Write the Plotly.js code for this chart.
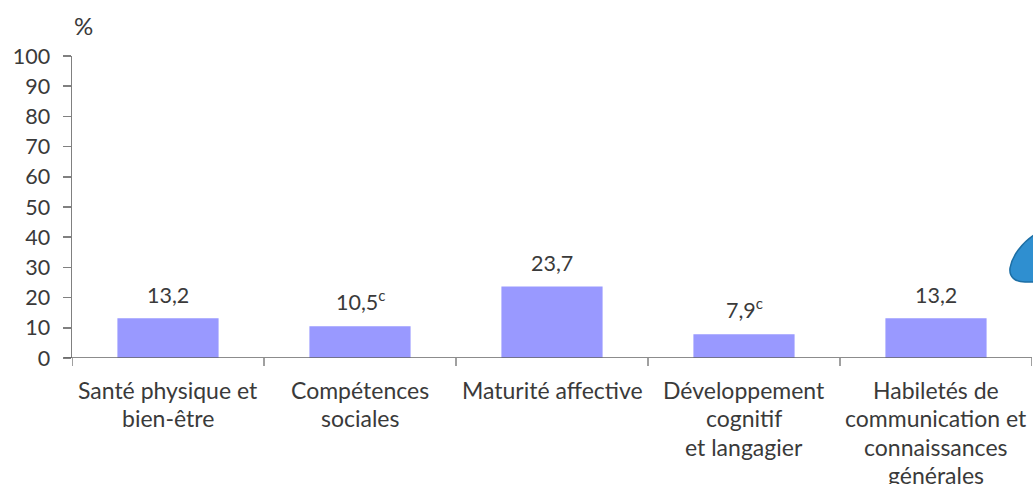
<!DOCTYPE html>
<html>
<head>
<meta charset="utf-8">
<script src="https://cdn.plot.ly/plotly-3.0.1.min.js"></script>
<style>html,body{margin:0;padding:0;background:#fff}</style>
</head>
<body>
<div id="chart" style="width:1033px;height:484px"></div>
<script>
const categoryLines = [
  ["Santé physique et", "bien-être"],
  ["Compétences", "sociales"],
  ["Maturité affective"],
  ["Développement", "cognitif", "et langagier"],
  ["Habiletés de", "communication et", "connaissances", "générales"]
];
const values = [13.2, 10.5, 23.7, 7.9, 13.2];
const valueLabels = ["13,2", "10,5<sup>c</sup>", "23,7", "7,9<sup>c</sup>", "13,2"];
const yTicks = [0, 10, 20, 30, 40, 50, 60, 70, 80, 90, 100];

const font = "Lato, sans-serif";
const ink = "#3a3a3a";
const W = 1033, H = 484, L = 72, R = 1, T = 56, B = 126;
const px = x => (x - L) / (W - L - R);
const py = y => (H - B - y) / (H - B - T);

const annotations = [];
values.forEach((v, i) => annotations.push({
  x: i, y: v, xref: "x", yref: "y", text: valueLabels[i], showarrow: false,
  xanchor: "center", yanchor: "bottom", yshift: valueLabels[i].includes("sup") ? 9 : 8,
  font: {family: font, size: 21.5, color: ink}
}));
categoryLines.forEach((lines, i) => lines.forEach((line, j) => {
  annotations.push({
    x: i, y: 0, xref: "x", yref: "y", text: line, showarrow: false,
    xanchor: "center", yanchor: "middle", yshift: -(32 + 28.4 * j),
    font: {family: font, size: 23, color: ink}
  });
}));
annotations.push({
  xref: "paper", yref: "paper", x: px(83), y: py(25),
  text: "%", showarrow: false, xanchor: "center", yanchor: "middle",
  font: {family: font, size: 24, color: ink}
});

const data = [{
  type: "bar", x: [0, 1, 2, 3, 4], y: values,
  marker: {color: "#9999ff", line: {width: 0}},
  width: 0.527, hoverinfo: "skip"
}];

const blob = [
  ["M", 1034, 235], ["C", 1022, 243, 1012, 256, 1010, 268],
  ["C", 1009, 277, 1015, 282, 1025, 282], ["L", 1034, 282]
].map(s => s[0] + " " + s.slice(1).map((v, k) => k % 2 ? py(v) : px(v)).join(" ")).join(" ") + " Z";

const layout = {
  width: W, height: H,
  margin: {l: L, r: R, t: T, b: B, pad: 0},
  paper_bgcolor: "#fff", plot_bgcolor: "#fff",
  showlegend: false,
  font: {family: font, color: ink},
  xaxis: {
    range: [-0.5, 4.5], tickmode: "array", tickvals: [0, 1, 2, 3, 4],
    showticklabels: false,
    ticks: "", showgrid: false, zeroline: false, showline: false, automargin: false
  },
  yaxis: {
    range: [0, 100], tickmode: "array", tickvals: yTicks, ticktext: yTicks.map(String),
    ticks: "outside", ticklen: 8, tickwidth: 1.5, tickcolor: "#808080",
    ticklabelstandoff: 8,
    showline: true, linecolor: "#808080", linewidth: 1.5,
    showgrid: false, zeroline: false, automargin: false,
    tickfont: {family: font, size: 21.5, color: ink}
  },
  annotations: annotations,
  shapes: [
    {type: "line", xref: "paper", yref: "y", x0: -8 / 960, x1: 1, y0: 0, y1: 0, line: {color: "#666666", width: 1.5}},
    ...[0, 1, 2, 3, 4, 5].map(k => ({
      type: "line", xref: "x", yref: "paper", x0: k - 0.5, x1: k - 0.5, y0: 0, y1: -8 / 302,
      line: {color: "#808080", width: 1.5}
    })),
    {
      type: "path", xref: "paper", yref: "paper", layer: "above",
      path: blob,
      line: {width: 1.5, color: "#1d6fa5"}, fillcolor: "#2f8fd0"
    }
  ]
};

Plotly.newPlot("chart", data, layout, {displayModeBar: false, staticPlot: true});
</script>
</body>
</html>
